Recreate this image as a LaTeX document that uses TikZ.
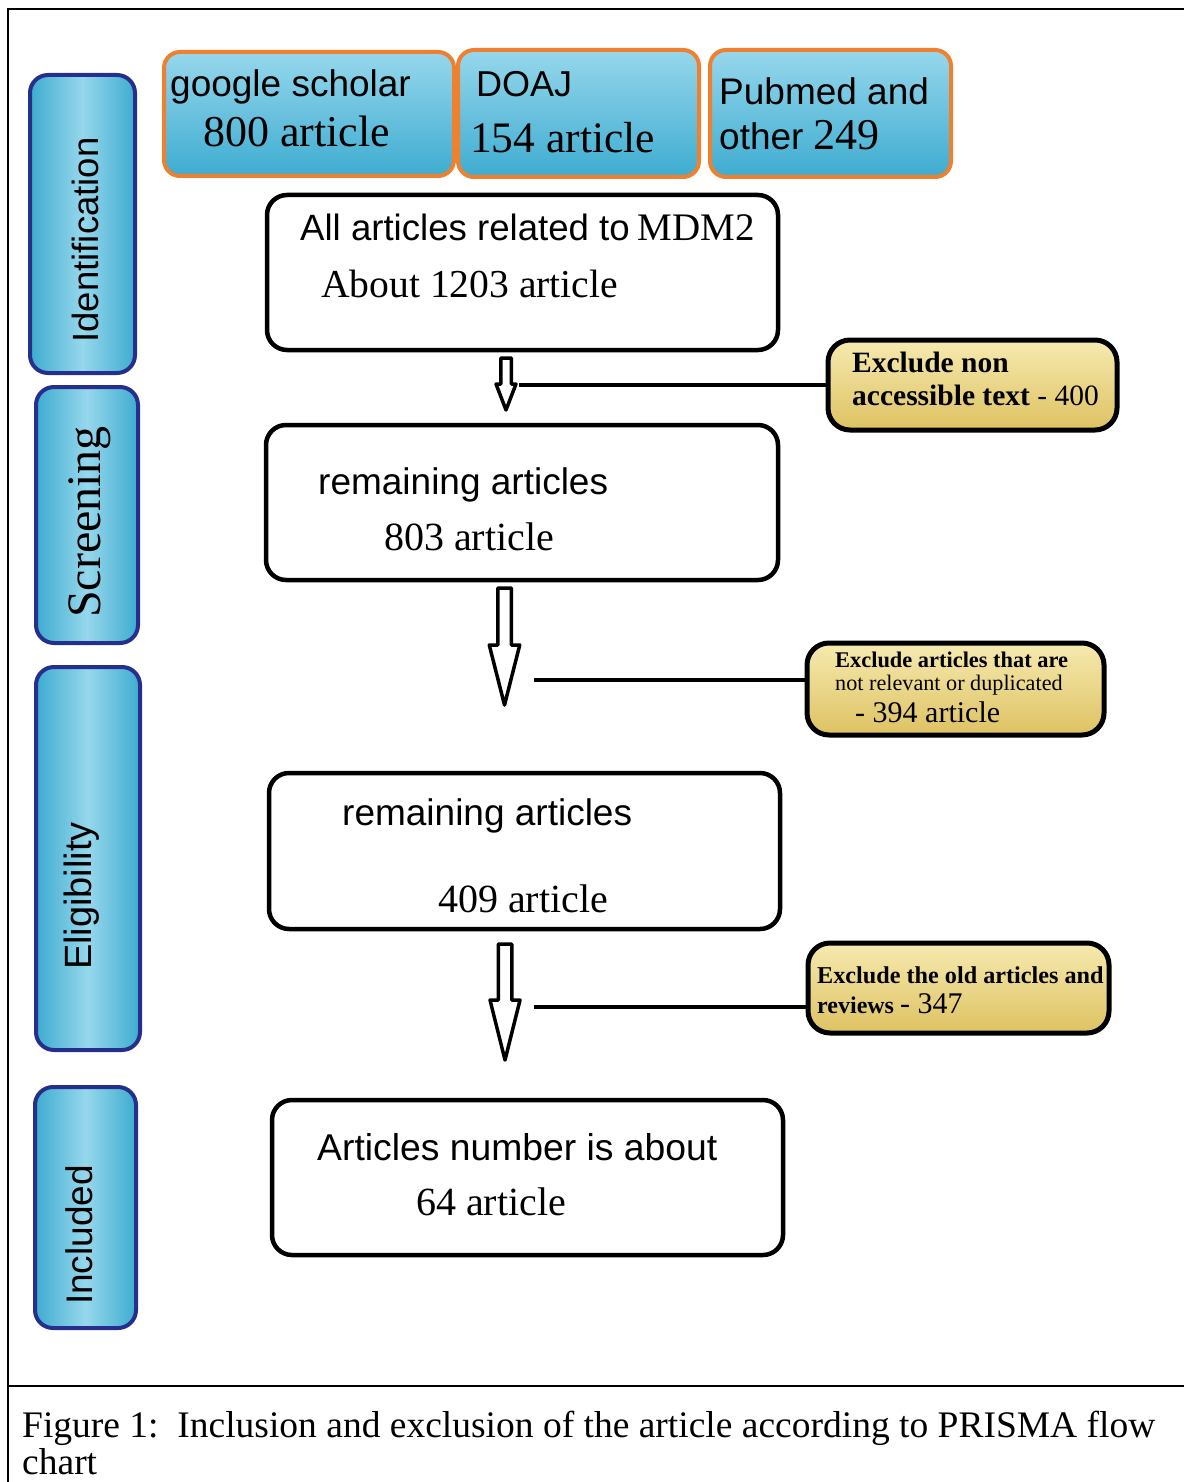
\documentclass[tikz,border=0pt]{standalone}
\usepackage{fontspec}
\setmainfont{Liberation Serif}
\newfontfamily\arialfam{Liberation Sans}
\usetikzlibrary{calc}
\newcommand\ArF[1]{\arialfam\fontsize{#1}{#1}\selectfont}
\newcommand\TmF[1]{\rmfamily\fontsize{#1}{#1}\selectfont}
\definecolor{blueL}{RGB}{150,215,236}
\definecolor{blueD}{RGB}{62,172,208}
\definecolor{navy}{RGB}{38,48,140}
\definecolor{orng}{RGB}{238,128,48}
\definecolor{yelL}{RGB}{246,234,176}
\definecolor{yelD}{RGB}{222,194,98}
\newcommand\blockarrow[5]{\draw[harrow] ($(#1)+(-#4,0)$) -- ($(#1)+(#4,0)$) -- ($(#2)+(#4,-#3)$) -- ($(#2)+(#5,-#3)$) -- (#2) -- ($(#2)+(-#5,-#3)$) -- ($(#2)+(-#4,-#3)$) -- cycle;}
\begin{document}
\begin{tikzpicture}[x=1pt,y=-1pt,
  side/.style={draw=navy, line width=4pt, rounded corners=18pt, left color=blueD, right color=blueD, middle color=blueL, inner sep=0pt},
  src/.style={draw=orng, line width=4pt, rounded corners=16pt, top color=blueL, bottom color=blueD, inner sep=0pt},
  wbox/.style={draw=black, line width=4.5pt, rounded corners=20pt, fill=white, inner sep=0pt},
  ybox/.style={draw=black, line width=5pt, rounded corners=22pt, top color=yelL, bottom color=yelD, inner sep=0pt},
  txt/.style={inner sep=0pt, anchor=base west},
  rtxt/.style={inner sep=0pt, rotate=90},
  conn/.style={line width=4pt},
  harrow/.style={line width=3.5pt, fill=white, line join=round}
]
\fill[white] (0,0) rectangle (1184,1482);
\useasboundingbox (0,0) rectangle (1184,1482);

% frame
\coordinate (fbl) at (8,1482);
\coordinate (ftl) at (8,9);
\coordinate (ftr) at (1184,9);
\coordinate (fml) at (8,1386);
\coordinate (fmr) at (1184,1386);
\draw[line width=2pt] (fbl) -- (ftl) -- (ftr);
\draw[line width=2pt] (fml) -- (fmr);

% side stage labels
\node[side, minimum width=105pt, minimum height=298pt] (sid) at (82.5,224) {};
\node[rtxt] (tid) at (85,240) {\ArF{36.5}Identification};
\node[side, minimum width=102pt, minimum height=256pt] (sscr) at (87,515) {};
\node[rtxt] (tscr) at (90,522) {\TmF{48}Screening};
\node[side, minimum width=104pt, minimum height=383pt] (selg) at (88,858.5) {};
\node[rtxt] (telg) at (82,896) {\ArF{38}Eligibility};
\node[side, minimum width=101pt, minimum height=241pt] (sinc) at (85.5,1207.5) {};
\node[rtxt] (tinc) at (79,1235) {\ArF{37}Included};

% source boxes
\node[src, minimum width=290pt, minimum height=124pt] (gs) at (309,114) {};
\node[txt] (gs1) at (170,97) {\ArF{37}google scholar};
\node[txt] (gs2) at (203,147) {\TmF{44}800 article};
\node[src, minimum width=241pt, minimum height=127pt] (doaj) at (578.5,113.5) {};
\node[txt] (dj1) at (476,97) {\ArF{36}DOAJ};
\node[txt] (dj2) at (470,153) {\TmF{43.5}154 article};
\node[src, minimum width=241pt, minimum height=127pt] (pub) at (830.5,113.5) {};
\node[txt] (pb1) at (719,105) {\ArF{37}Pubmed and};
\node[txt] (pb2) at (719,150) {\ArF{37}other {\TmF{44}249}};

% main boxes
\node[wbox, minimum width=511pt, minimum height=155pt] (b1) at (522.5,272.5) {};
\node[txt] (b1a) at (300,240) {\ArF{36.6}All articles related to\hspace{8pt}{\TmF{39}MDM2}};
\node[txt] (b1b) at (321,297) {\TmF{39.6}About 1203 article};
\node[wbox, minimum width=512pt, minimum height=155pt] (b2) at (522,502.5) {};
\node[txt] (b2a) at (318,494) {\ArF{37}remaining articles};
\node[txt] (b2b) at (384,550) {\TmF{40}803 article};
\node[wbox, minimum width=511pt, minimum height=156pt] (b3) at (524.5,851) {};
\node[txt] (b3a) at (342,825) {\ArF{37}remaining articles};
\node[txt] (b3b) at (438,912) {\TmF{40}409 article};
\node[wbox, minimum width=511pt, minimum height=155pt] (b4) at (527.5,1177.5) {};
\node[txt] (b4a) at (317,1160) {\ArF{37.3}Articles number is about};
\node[txt] (b4b) at (416,1215) {\TmF{40}64 article};

% exclusion boxes
\node[ybox, minimum width=289pt, minimum height=90pt] (y1) at (972.5,385) {};
\node[txt] (y1a) at (852,372) {\TmF{29.5}\bfseries Exclude non};
\node[txt] (y1b) at (852,405) {\TmF{29.5}\textbf{accessible text} - 400};
\node[ybox, minimum width=297pt, minimum height=92pt] (y2) at (955.5,689) {};
\node[txt] (y2a) at (835,667) {\TmF{22.4}\bfseries Exclude articles that are};
\node[txt] (y2b) at (835,690) {\TmF{22.2}not relevant or duplicated};
\node[txt] (y2c) at (855,722) {\TmF{30}- 394 article};
\node[ybox, minimum width=301pt, minimum height=90pt] (y3) at (958.5,988) {};
\node[txt] (y3a) at (817,983) {\TmF{24.2}\bfseries Exclude the old articles and};
\node[txt] (y3b) at (817,1013) {\TmF{24}\textbf{reviews} {\TmF{30}- 347}};

% hollow arrows
\coordinate (a1s) at (506,358);
\coordinate (a1e) at (506,410);
\blockarrow{a1s}{a1e}{26}{5.25}{10}
\coordinate (a2s) at (504.5,588);
\coordinate (a2e) at (504.5,705);
\blockarrow{a2s}{a2e}{60}{6.75}{15.25}
\coordinate (a3s) at (505,944);
\coordinate (a3e) at (505,1060);
\blockarrow{a3s}{a3e}{60}{6.75}{15}

% connectors from exclusion boxes
\coordinate (c1) at (519,385);
\draw[conn] (c1) -- (c1 -| y1.west);
\coordinate (c2) at (534,680);
\draw[conn] (c2) -- (c2 -| y2.west);
\coordinate (c3) at (534,1007);
\draw[conn] (c3) -- (c3 -| y3.west);

% caption
\node[txt] (cap1) at (22,1437) {\TmF{37.5}Figure 1:\ \ Inclusion and exclusion of the article according to PRISMA flow};
\node[txt] (cap2) at (22,1474) {\TmF{37.5}chart};
\end{tikzpicture}
\end{document}
